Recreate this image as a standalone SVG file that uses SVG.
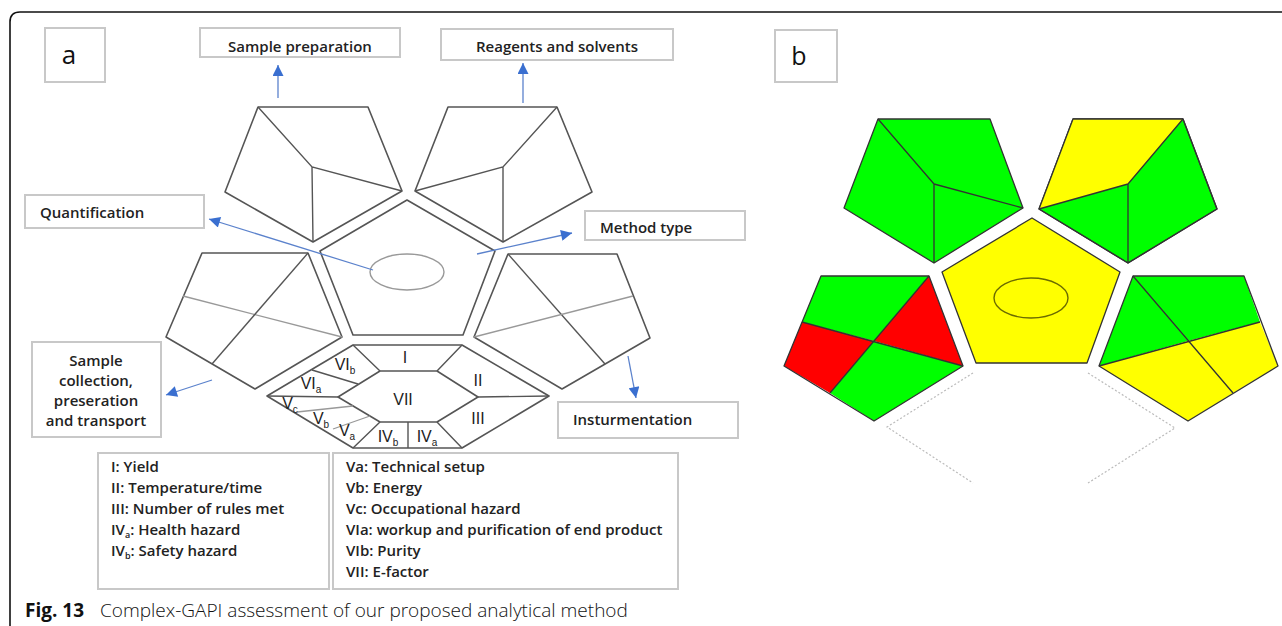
<svg xmlns="http://www.w3.org/2000/svg" width="1282" height="626" viewBox="0 0 1282 626">
<style>
.bx{fill:#fff;stroke:#c8c8c8;stroke-width:2}
.lb{font-family:"Open Sans","Noto Sans",sans-serif;font-weight:600;font-size:15px;fill:#222}
.lg{font-family:"Open Sans","Noto Sans",sans-serif;font-weight:600;font-size:15px;fill:#222}
.pa{fill:#fff;stroke:#555;stroke-width:1.6;stroke-linejoin:round}
.ln{stroke:#555;stroke-width:1.4;fill:none}
.lt{stroke:#999;stroke-width:1.3;fill:none}
.rn{font-family:"Liberation Sans",Arial,sans-serif;font-size:16px;fill:#222;text-anchor:middle}
.sb{font-size:10px}
.pb{stroke:#333;stroke-width:1.3;stroke-linejoin:round}
.g{fill:#00ff00}.y{fill:#ffff00}.r{fill:#ff0000}
.ar{stroke:#5b82cc;stroke-width:1.3;fill:none}
</style>
<defs>
<marker id="ah" viewBox="0 0 10 10" refX="10" refY="5" markerWidth="12" markerHeight="11" markerUnits="userSpaceOnUse" orient="auto"><path d="M0,0 L10,5 L0,10 z" fill="#3a6fd0"/></marker>
</defs>
<rect width="1282" height="626" fill="#fff"/>
<path d="M10,626 L10,22 Q10,12 20,12 L1282,12" fill="none" stroke="#111" stroke-width="1.6"/>

<g id="label-a"><rect class="bx" x="45" y="28" width="60" height="54"/><text x="69" y="64" font-family="'Open Sans','Noto Sans',sans-serif" font-size="26" text-anchor="middle" fill="#111">a</text></g>
<g id="label-b"><rect class="bx" x="775" y="30" width="62" height="52"/><text x="799" y="65" font-family="'Open Sans','Noto Sans',sans-serif" font-size="25" text-anchor="middle" fill="#111">b</text></g>

<g id="box-sample-preparation"><rect class="bx" x="200" y="28" width="200" height="29"/><text class="lb" x="300" y="52" text-anchor="middle">Sample preparation</text></g>
<g id="box-reagents"><rect class="bx" x="441" y="29" width="232" height="31"/><text class="lb" x="557" y="52" text-anchor="middle">Reagents and solvents</text></g>
<g id="box-quantification"><rect class="bx" x="25" y="195" width="179" height="33"/><text class="lb" x="40" y="218">Quantification</text></g>
<g id="box-method-type"><rect class="bx" x="585" y="211" width="160" height="29"/><text class="lb" x="600" y="233">Method type</text></g>
<g id="box-instrumentation"><rect class="bx" x="558" y="402" width="180" height="36"/><text class="lb" x="573" y="425">Insturmentation</text></g>
<g id="box-sample-collection"><rect class="bx" x="32" y="342" width="129" height="95"/>
<text class="lb" text-anchor="middle"><tspan x="96" y="366">Sample</tspan><tspan x="96" y="386">collection,</tspan><tspan x="96" y="406">preseration</tspan><tspan x="96" y="426">and transport</tspan></text></g>

<g id="pent-sample-preparation">
<polygon class="pa" points="258,107 368,107 402,191 313,242 225,192"/>
<path class="ln" d="M258,107 L312,167 L402,191 M312,167 L313,242"/>
</g>
<g id="pent-reagents">
<polygon class="pa" points="448,107 557,107 592,192 503,242 415,191"/>
<path class="ln" d="M557,107 L503,167 L415,191 M503,167 L503,242"/>
</g>
<g id="pent-center">
<polygon class="pa" points="407,200 495,251 463,335 353,335 320,251"/>
<ellipse cx="407" cy="272" rx="37" ry="18" fill="none" stroke="#999" stroke-width="1.4"/>
</g>
<g id="pent-sample-collection">
<polygon class="pa" points="202,253 308,253 342,337 255,389 166,337"/>
<path class="lt" d="M183,296 L342,337"/>
<path class="ln" d="M308,253 L212,364"/>
</g>
<g id="pent-instrumentation">
<polygon class="pa" points="508,254 617,254 650,338 562,389 474,337"/>
<path class="ln" d="M508,254 L605,364"/>
<path class="lt" d="M474,337 L633,296"/>
</g>
<g id="hexagon">
<polygon class="pa" points="353,345 462,345 549,396 462,448 353,448 267,396"/>
<polygon class="pa" points="380,371 437,371 478,397 437,422 380,422 338,397"/>
<path class="ln" d="M353,345 L380,371 M462,345 L437,371 M549,396 L478,397 M267,396 L338,397 M437,422 L462,448 M380,422 L353,448 M408,422 L408,448 M312,370 L358,384"/>
<path class="lt" d="M297,412 L353,406 M333,429 L370,416"/>
<text class="rn" x="405" y="363">I</text>
<text class="rn" x="478" y="386">II</text>
<text class="rn" x="403" y="405">VII</text>
<text class="rn" x="478" y="424">III</text>
<text class="rn" x="345" y="370">VI<tspan class="sb" dy="4">b</tspan></text>
<text class="rn" x="311" y="389">VI<tspan class="sb" dy="4">a</tspan></text>
<text class="rn" x="290" y="409">V<tspan class="sb" dy="4">c</tspan></text>
<text class="rn" x="321" y="424">V<tspan class="sb" dy="4">b</tspan></text>
<text class="rn" x="347" y="436">V<tspan class="sb" dy="4">a</tspan></text>
<text class="rn" x="388" y="442">IV<tspan class="sb" dy="4">b</tspan></text>
<text class="rn" x="427" y="442">IV<tspan class="sb" dy="4">a</tspan></text>
</g>

<g id="legend-1"><rect class="bx" x="98" y="453" width="231" height="136"/>
<text class="lg"><tspan x="111" y="472">I: Yield</tspan><tspan x="111" y="493">II: Temperature/time</tspan><tspan x="111" y="514">III: Number of rules met</tspan><tspan x="111" y="535">IV<tspan font-size="9" dy="3">a</tspan><tspan dy="-3">: Health hazard</tspan></tspan><tspan x="111" y="556">IV<tspan font-size="9" dy="3">b</tspan><tspan dy="-3">: Safety hazard</tspan></tspan></text></g>
<g id="legend-2"><rect class="bx" x="333" y="453" width="345" height="136"/>
<text class="lg"><tspan x="346" y="472">Va: Technical setup</tspan><tspan x="346" y="493">Vb: Energy</tspan><tspan x="346" y="514">Vc: Occupational hazard</tspan><tspan x="346" y="535">VIa: workup and purification of end product</tspan><tspan x="346" y="556">VIb: Purity</tspan><tspan x="346" y="577">VII: E-factor</tspan></text></g>

<g id="connectors">
<line class="ar" x1="278" y1="98" x2="278" y2="65" marker-end="url(#ah)"/>
<line class="ar" x1="523" y1="103" x2="523" y2="63" marker-end="url(#ah)"/>
<line class="ar" x1="373" y1="270" x2="209" y2="219" marker-end="url(#ah)"/>
<line class="ar" x1="477" y1="254" x2="572" y2="233" marker-end="url(#ah)"/>
<line class="ar" x1="212" y1="380" x2="166" y2="395" marker-end="url(#ah)"/>
<line class="ar" x1="628" y1="356" x2="636" y2="398" marker-end="url(#ah)"/>
</g>

<g id="b-sample-preparation">
<polygon class="pb g" points="878,119 990,119 1023,208 934,263 844,208"/>
<path class="pb" fill="none" d="M878,119 L934,184 L1023,208 M934,184 L934,263"/>
</g>
<g id="b-reagents">
<polygon class="pb g" points="1073,119 1183,119 1217,209 1128,263 1039,209"/>
<polygon class="y" points="1073,119 1183,119 1128,184 1039,209"/>
<polygon fill="none" class="pb" points="1073,119 1183,119 1217,209 1128,263 1039,209"/>
<path class="pb" fill="none" d="M1183,119 L1128,184 L1039,209 M1128,184 L1128,263"/>
</g>
<g id="b-center">
<polygon class="pb y" points="1032,218 1120,272 1087,363 976,363 942,272"/>
<ellipse cx="1031" cy="298" rx="37" ry="20" fill="none" stroke="#6b6b00" stroke-width="1.4"/>
</g>
<g id="b-sample-collection">
<polygon class="g" points="821,276 929,276 874,341 802,322"/>
<polygon class="r" points="929,276 963,366 874,341"/>
<polygon class="r" points="802,322 874,341 830,393 784,366"/>
<polygon class="g" points="874,341 963,366 874,421 830,393"/>
<polygon class="pb" fill="none" points="821,276 929,276 963,366 874,421 784,366"/>
<path class="pb" fill="none" d="M802,322 L963,366 M929,276 L830,393"/>
</g>
<g id="b-instrumentation">
<polygon class="g" points="1133,276 1244,276 1260,322 1188,341"/>
<polygon class="g" points="1133,276 1188,341 1099,366"/>
<polygon class="y" points="1099,366 1188,341 1233,393 1188,421"/>
<polygon class="y" points="1188,341 1260,322 1278,366 1233,393"/>
<polygon class="pb" fill="none" points="1133,276 1244,276 1278,366 1188,421 1099,366"/>
<path class="pb" fill="none" d="M1133,276 L1233,393 M1099,366 L1260,322"/>
</g>
<g id="b-hexagon">
<path d="M973,373 L887,427 L973,483 M1088,373 L1175,428 L1088,483" fill="none" stroke="#bbb" stroke-width="1.2" stroke-dasharray="2,2"/>
</g>

<g id="caption">
<text x="25" y="617" font-family="'Open Sans','Noto Sans',sans-serif" font-size="19" fill="#111"><tspan font-weight="bold">Fig. 13</tspan><tspan x="100" font-weight="300">Complex-GAPI assessment of our proposed analytical method</tspan></text>
</g>
</svg>
